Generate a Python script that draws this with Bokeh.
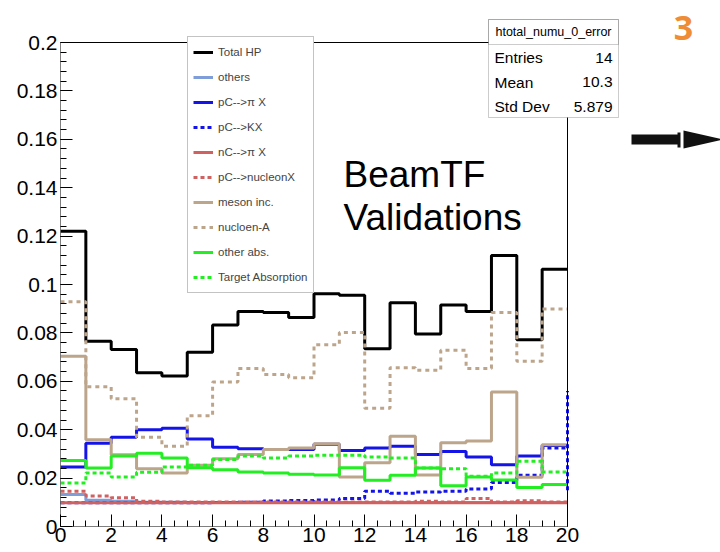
import numpy as np
from bokeh.plotting import figure
from bokeh.models import (FixedTicker, Legend, LegendItem, Label, BoxAnnotation,
                          PolyAnnotation, Range1d)
from bokeh.embed import file_html
from bokeh.resources import INLINE

# ---------------- data ----------------
bin_edges = list(range(0, 21))
total_hp = [0.122, 0.0765, 0.0731, 0.0635, 0.0622, 0.072, 0.0833, 0.0888, 0.0884, 0.0864,
            0.0962, 0.0956, 0.0735, 0.0925, 0.0795, 0.0915, 0.0888, 0.112, 0.0772, 0.1063]
others = [0.0132, 0.0108, 0.0104, 0.0100, 0.0100, 0.0099, 0.0099, 0.0099, 0.0099, 0.0099,
          0.0099, 0.0099, 0.0099, 0.0099, 0.0099, 0.0099, 0.0099, 0.0099, 0.0099, 0.0099]
pc_pi = [0.0246, 0.0344, 0.0369, 0.0400, 0.0406, 0.0362, 0.0327, 0.0321, 0.0318, 0.0318,
         0.0340, 0.0314, 0.0324, 0.0332, 0.0298, 0.0310, 0.0287, 0.0255, 0.0291, 0.0335]
pc_k = [0.0098, 0.0098, 0.0098, 0.0098, 0.0098, 0.0098, 0.0099, 0.0100, 0.0105, 0.0107,
        0.0109, 0.0116, 0.0146, 0.0137, 0.0143, 0.0146, 0.0155, 0.0182, 0.0212, 0.0324]
pc_k_edge = [0.015, 0.056]
nc_pi = [0.0098] * 20
pc_nucleon = [0.0146, 0.0126, 0.0119, 0.0104, 0.0101, 0.0101, 0.0101, 0.0101, 0.0101, 0.0101,
              0.0101, 0.0101, 0.0101, 0.0101, 0.0104, 0.0101, 0.0116, 0.0101, 0.0106, 0.0101]
meson_inc = [0.0704, 0.0358, 0.0296, 0.0239, 0.0221, 0.0253, 0.0280, 0.0298, 0.0318, 0.0324,
             0.0342, 0.0205, 0.0263, 0.0373, 0.0213, 0.0346, 0.0353, 0.0556, 0.0203, 0.0338]
nucleon_a = [0.0929, 0.0577, 0.0528, 0.0369, 0.0332, 0.0458, 0.0597, 0.0653, 0.0628, 0.0615,
             0.0751, 0.0802, 0.0489, 0.0656, 0.0646, 0.0728, 0.0653, 0.0884, 0.0683, 0.0899]
other_abs = [0.0273, 0.0242, 0.0291, 0.0303, 0.0283, 0.0243, 0.0235, 0.0225, 0.0221, 0.0216,
             0.0213, 0.0243, 0.0191, 0.0212, 0.0242, 0.0168, 0.0205, 0.0192, 0.0161, 0.0174]
target_abs = [0.0180, 0.0221, 0.0205, 0.0224, 0.0246, 0.0253, 0.0277, 0.0291, 0.0283, 0.0291,
              0.0294, 0.0294, 0.0287, 0.0283, 0.0242, 0.0239, 0.0208, 0.0221, 0.0270, 0.0225]

legend_labels = ["Total HP", "others", "pC-->\u03c0 X", "pC-->KX", "nC-->\u03c0 X",
                 "pC-->nucleonX", "meson inc.", "nucloen-A", "other abs.", "Target Absorption"]
x_tick_values = [0, 2, 4, 6, 8, 10, 12, 14, 16, 18, 20]
y_tick_values = [0, 0.02, 0.04, 0.06, 0.08, 0.1, 0.12, 0.14, 0.16, 0.18, 0.2]
y_tick_labels = ["0", "0.02", "0.04", "0.06", "0.08", "0.1", "0.12", "0.14", "0.16", "0.18", "0.2"]
stats_name = "htotal_numu_0_error"
stats_rows = [("Entries", "14"), ("Mean", "10.3"), ("Std Dev", "5.879")]

FONT = "Liberation Sans"

# canvas layout: frame spans x 60..720, y 0..526 ; axis box (0..20, 0..0.2) sits at x 60..567, y 42..526
W, H = 720, 552
LEFT, BOTTOM = 60, 26
FRAME_W, FRAME_H = W - LEFT, H - BOTTOM
AX_RIGHT_PX, AX_TOP_PX = 567, 42
x_max = x_tick_values[-1] * FRAME_W / (AX_RIGHT_PX - LEFT)
y_max = y_tick_values[-1] * FRAME_H / (FRAME_H - AX_TOP_PX)

p = figure(width=W, height=H, output_backend="svg", toolbar_location=None,
           x_range=Range1d(0, x_max), y_range=Range1d(0, y_max),
           min_border_left=LEFT, min_border_right=0, min_border_top=0,
           min_border_bottom=BOTTOM, title=None)
p.background_fill_color = "white"
p.border_fill_color = "white"
p.outline_line_color = None
p.xgrid.visible = False
p.ygrid.visible = False

p.xaxis.ticker = FixedTicker(ticks=x_tick_values,
                             minor_ticks=list(np.arange(0, x_tick_values[-1] + 0.01, 0.5)))
p.yaxis.ticker = FixedTicker(ticks=y_tick_values,
                             minor_ticks=list(np.arange(0, y_tick_values[-1] + 0.0001, 0.004)))
p.yaxis.major_label_overrides = {v: l for v, l in zip(y_tick_values, y_tick_labels)}
for ax in (p.xaxis, p.yaxis):
    ax.major_tick_in = 12
    ax.major_tick_out = 0
    ax.minor_tick_in = 6
    ax.minor_tick_out = 0
    ax.axis_line_color = None
    ax.major_tick_line_color = "black"
    ax.minor_tick_line_color = "black"
    ax.major_label_text_font = FONT
    ax.major_label_text_font_size = "21px"
    ax.major_label_text_color = "black"
p.xaxis.major_label_standoff = 1
p.yaxis.major_label_standoff = 3

series = [
    (total_hp, "black", "solid"),
    (others, "#7f9dd8", "solid"),
    (pc_pi, "#1414e8", "solid"),
    (pc_k, "#1414e8", "4 3"),
    (nc_pi, "#cf6161", "solid"),
    (pc_nucleon, "#cf6161", "4 3"),
    (meson_inc, "#bda58c", "solid"),
    (nucleon_a, "#bda58c", "4 4"),
    (other_abs, "#22ee22", "solid"),
    (target_abs, "#22ee22", "4 3"),
]

items = []
for (vals, color, dash), label in zip(series, legend_labels):
    r = p.step(x=bin_edges, y=list(vals) + [vals[-1]], mode="after",
               line_color=color, line_width=3, line_dash=dash)
    items.append(LegendItem(label=label, renderers=[r]))

p.segment(x0=[bin_edges[-1]], y0=[pc_k_edge[0]], x1=[bin_edges[-1]], y1=[pc_k_edge[1]],
          line_color="#1414e8", line_width=3, line_dash="4 3")

# axis frame box
p.quad(left=[x_tick_values[0]], right=[x_tick_values[-1]],
       bottom=[y_tick_values[0]], top=[y_tick_values[-1]],
       fill_alpha=0, line_color="black", line_width=1)

legend = Legend(items=items, location=(127, 233))
legend.label_text_font = FONT
legend.label_text_font_size = "11.5px"
legend.glyph_width = 20
legend.glyph_height = 20
legend.label_height = 20
legend.label_standoff = 5
legend.spacing = 5
legend.padding = 5
legend.margin = 0
legend.border_line_color = "#888888"
legend.border_line_width = 1
legend.background_fill_color = "white"
legend.background_fill_alpha = 1
p.add_layout(legend, "center")

# stats box (canvas coordinates)
p.add_layout(BoxAnnotation(left=488, right=618, top=19, bottom=117,
                           left_units="canvas", right_units="canvas",
                           top_units="canvas", bottom_units="canvas",
                           fill_color="white", fill_alpha=1,
                           line_color="#555555", line_width=1))
p.add_layout(BoxAnnotation(left=488, right=618, top=19, bottom=44,
                           left_units="canvas", right_units="canvas",
                           top_units="canvas", bottom_units="canvas",
                           fill_alpha=0, line_color="#555555", line_width=1))
p.add_layout(Label(x=553, y=31, x_units="canvas", y_units="canvas", text=stats_name,
                   text_font=FONT, text_font_size="12.5px", text_align="center",
                   text_baseline="middle", text_color="black"))
for i, (k, v) in enumerate(stats_rows):
    yy = 57 + i * 24.5
    p.add_layout(Label(x=494, y=yy, x_units="canvas", y_units="canvas", text=k,
                       text_font=FONT, text_font_size="15.5px", text_align="left",
                       text_baseline="middle", text_color="black"))
    p.add_layout(Label(x=612, y=yy, x_units="canvas", y_units="canvas", text=v,
                       text_font=FONT, text_font_size="15.5px", text_align="right",
                       text_baseline="middle", text_color="black"))

# big annotation text
p.add_layout(Label(x=343, y=174, x_units="canvas", y_units="canvas", text="BeamTF",
                   text_font=FONT, text_font_size="37px", text_baseline="middle",
                   text_color="black"))
p.add_layout(Label(x=343, y=217, x_units="canvas", y_units="canvas", text="Validations",
                   text_font=FONT, text_font_size="37px", text_baseline="middle",
                   text_color="black"))

# slide number
p.add_layout(Label(x=683, y=27, x_units="canvas", y_units="canvas", text="3",
                   text_font="Open Sans", text_font_size="34px", text_font_style="bold",
                   text_align="center", text_baseline="middle", text_color="#ee8d35"))

# arrow
p.add_layout(BoxAnnotation(left=631, right=678, top=134, bottom=144,
                           left_units="canvas", right_units="canvas",
                           top_units="canvas", bottom_units="canvas",
                           fill_color="#111111", fill_alpha=1, line_alpha=0))
p.add_layout(BoxAnnotation(left=677, right=680, top=132, bottom=147,
                           left_units="canvas", right_units="canvas",
                           top_units="canvas", bottom_units="canvas",
                           fill_color="#111111", fill_alpha=1, line_alpha=0))
p.add_layout(PolyAnnotation(xs=[683, 723, 683], ys=[130, 139, 148],
                            xs_units="canvas", ys_units="canvas",
                            fill_color="#111111", fill_alpha=1, line_alpha=0))

open("out.html", "w").write(file_html(p, INLINE))
